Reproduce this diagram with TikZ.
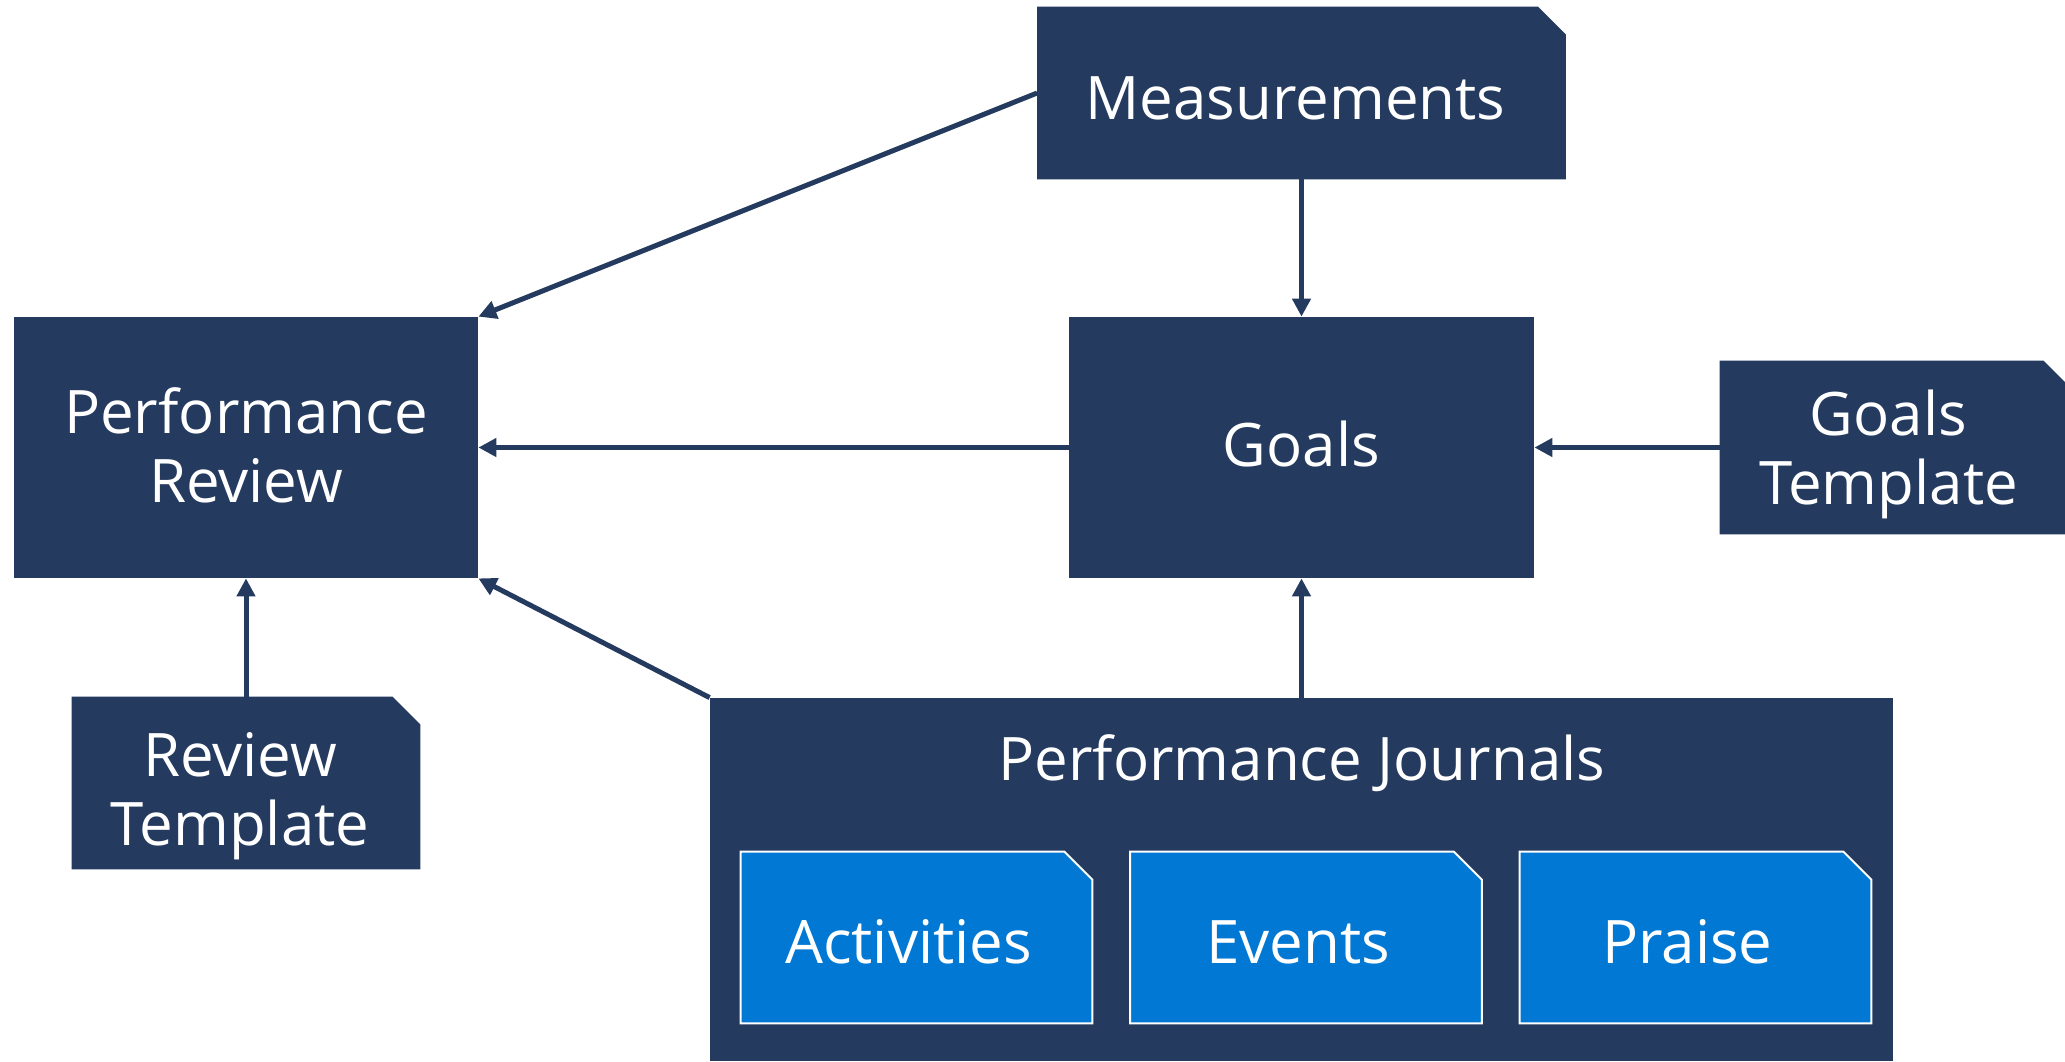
\documentclass[tikz,border=0pt]{standalone}
\usepackage{fontspec}
\setmainfont{Open Sans}
\usetikzlibrary{arrows.meta,backgrounds,calc}
\definecolor{navy}{HTML}{243A5E}
\definecolor{lblue}{HTML}{0078D4}
\newcommand{\cutfill}[3]{%
  \path[#3] (#1.north west) -- ($(#1.north east)+(-#2,0pt)$) -- ($(#1.north east)+(0pt,-#2)$) -- (#1.south east) -- (#1.south west) -- cycle;}
\newcommand{\twolines}[3][0pt]{\begin{tabular}[b]{@{}c@{\hspace*{#1}}}#2\\#3\end{tabular}}
\tikzset{
  box/.style={rectangle, inner sep=0pt, text=white, text depth=0pt,
    font=\fontsize{30}{34.5}\selectfont},
  navyfill/.style={fill=navy},
  bluefill/.style={fill=lblue, draw=white, line width=1pt},
  conn/.style={draw=navy, line width=2.5pt, -{Triangle[length=9pt,width=9pt]}},
}
\begin{document}
\begin{tikzpicture}[x=0.5pt,y=-0.5pt]
\renewcommand{\arraystretch}{1}
\useasboundingbox (0,0) rectangle (2065,1061);
\node[box, minimum width=264pt, minimum height=86pt, text height=26pt] (meas) at (1301.5,93) {Measurements\hspace*{6pt}};
\node[box, minimum width=232pt, minimum height=130.5pt, text height=54.8pt] (pr) at (246,447.5) {\twolines{Performance}{Review}};
\node[box, minimum width=232.5pt, minimum height=130.5pt, text height=19pt] (goals) at (1301.5,447.5) {Goals};
\node[box, minimum width=172.5pt, minimum height=86.5pt, text height=57pt] (gt) at (1892.5,447.5) {\twolines[4pt]{Goals}{Template}};
\node[box, minimum width=174pt, minimum height=86pt, text height=62pt] (rt) at (246,783) {\twolines[6pt]{Review}{Template}};
\node[box, minimum width=591.5pt, minimum height=181.5pt] (pj) at (1301.5,879.5) {};
\node[box, anchor=base] (pjt) at (1302,780) {Performance Journals};
\node[box, minimum width=175.5pt, minimum height=85.5pt, text height=25.8pt] (act) at (916.5,937.5) {Activities\hspace*{8pt}};
\node[box, minimum width=175.5pt, minimum height=85.5pt, text height=25.8pt] (ev) at (1306,937.5) {Events\hspace*{8pt}};
\node[box, minimum width=175.5pt, minimum height=85.5pt, text height=25.8pt] (pra) at (1695.5,937.5) {Praise\hspace*{8pt}};
\begin{scope}[on background layer]
  \cutfill{meas}{14pt}{navyfill}
  \fill[navy] (pr.north west) rectangle (pr.south east);
  \fill[navy] (goals.north west) rectangle (goals.south east);
  \cutfill{gt}{11pt}{navyfill}
  \cutfill{rt}{14pt}{navyfill}
  \fill[navy] (pj.north west) rectangle (pj.south east);
  \cutfill{act}{14pt}{bluefill}
  \cutfill{ev}{14pt}{bluefill}
  \cutfill{pra}{14pt}{bluefill}
\end{scope}
\draw[conn] (meas.west) -- (pr.north east);
\draw[conn] (meas.south -| goals.north) -- (goals.north);
\draw[conn] (goals.west) -- (pr.east);
\draw[conn] (gt.west) -- (goals.east);
\draw[conn] (rt.north) -- (pr.south);
\draw[conn] (pj.north -| goals.south) -- (goals.south);
\draw[conn] (pj.north west) -- (pr.south east);
\end{tikzpicture}
\end{document}
